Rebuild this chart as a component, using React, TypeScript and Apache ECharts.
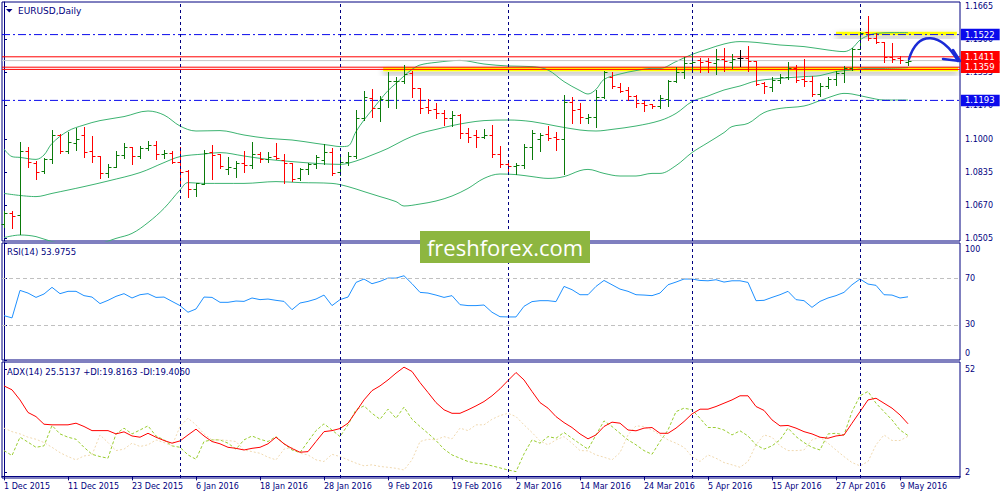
import React, { useEffect, useRef } from "react";
import * as echarts from "echarts";

// ---------- OHLC (bar index 0 = 1 Dec 2015 ... 113 = 10 May 2016) ----------
const opens = [
  1.0575, 1.063, 1.062, 1.094, 1.0878, 1.0842, 1.09, 1.1022, 1.0942, 1.098,
  1.102, 1.094, 1.0915, 1.083, 1.0862, 1.092, 1.0962, 1.0915, 1.0957, 1.0968,
  1.0925, 1.093, 1.0887, 1.084, 1.075, 1.0775, 1.0933, 1.0925, 1.0848, 1.0855,
  1.088, 1.087, 1.0925, 1.0898, 1.0915, 1.0895, 1.0878, 1.0805, 1.0848, 1.0873,
  1.0895, 1.0935, 1.0835, 1.0885, 1.0917, 1.1105, 1.1203, 1.1155, 1.1195, 1.1288,
  1.129, 1.1328, 1.1253, 1.116, 1.115, 1.113, 1.1103, 1.112, 1.103, 1.102,
  1.101, 1.1022, 1.0925, 1.0875, 1.0867, 1.087, 1.096, 1.1, 1.1025, 1.101,
  1.0998, 1.1185, 1.1148, 1.1105, 1.111, 1.121, 1.1312, 1.1262, 1.1245, 1.1215,
  1.118, 1.1175, 1.1165, 1.12, 1.129, 1.1335, 1.138, 1.1393, 1.1392, 1.138,
  1.14, 1.1385, 1.1403, 1.1403, 1.139, 1.1278, 1.1262, 1.1295, 1.131, 1.1355,
  1.1298, 1.129, 1.1223, 1.1265, 1.1298, 1.1332, 1.1353, 1.1448, 1.1533, 1.1505,
  1.1485, 1.1408, 1.1403, 1.1385,
];
const highs = [
  1.064, 1.064, 1.0985, 1.0962, 1.089, 1.0903, 1.1045, 1.1025, 1.1037, 1.1053,
  1.1062, 1.1015, 1.0915, 1.0875, 1.094, 1.0982, 1.0962, 1.0967, 1.0992, 1.0992,
  1.0945, 1.094, 1.0962, 1.0845, 1.0782, 1.0945, 1.097, 1.0925, 1.0908, 1.089,
  1.0942, 1.0983, 1.0937, 1.0937, 1.0978, 1.0925, 1.0878, 1.0853, 1.0878, 1.092,
  1.0973, 1.0953, 1.0915, 1.0937, 1.1145, 1.1242, 1.1248, 1.1215, 1.1337, 1.1308,
  1.137, 1.134, 1.1253, 1.1198, 1.1178, 1.1145, 1.114, 1.1123, 1.1053, 1.1045,
  1.1048, 1.107, 1.0965, 1.0895, 1.0878, 1.0975, 1.1045, 1.1032, 1.1065, 1.1037,
  1.122, 1.1212, 1.1182, 1.1123, 1.1245, 1.1342, 1.1337, 1.1278, 1.1262, 1.122,
  1.119, 1.1175, 1.122, 1.1295, 1.1362, 1.1412, 1.142, 1.1403, 1.1407, 1.1448,
  1.1453, 1.1425, 1.1445, 1.1467, 1.139, 1.1287, 1.1308, 1.1325, 1.1387, 1.137,
  1.14, 1.1315, 1.1278, 1.1308, 1.1342, 1.1365, 1.1453, 1.1537, 1.1615, 1.1528,
  1.1487, 1.1482, 1.1415, 1.1395,
];
const lows = [
  1.0562, 1.0553, 1.0523, 1.0862, 1.0798, 1.0832, 1.0878, 1.0928, 1.0928, 1.0945,
  1.0908, 1.0883, 1.0803, 1.0808, 1.0862, 1.0903, 1.0875, 1.0903, 1.0945, 1.0898,
  1.0903, 1.0878, 1.0775, 1.0712, 1.0715, 1.0775, 1.08, 1.0853, 1.0825, 1.0812,
  1.0837, 1.0853, 1.0883, 1.0887, 1.0898, 1.0778, 1.0792, 1.0795, 1.0823, 1.0853,
  1.0875, 1.082, 1.082, 1.0872, 1.0903, 1.1095, 1.1112, 1.109, 1.1162, 1.1157,
  1.1282, 1.1212, 1.1128, 1.1128, 1.1103, 1.107, 1.1065, 1.1003, 1.0987, 1.0958,
  1.1003, 1.0912, 1.0862, 1.0825, 1.0825, 1.0853, 1.0898, 1.0942, 1.0995, 1.0945,
  1.0825, 1.1078, 1.1082, 1.1078, 1.1058, 1.1203, 1.1253, 1.1237, 1.1195, 1.1158,
  1.1142, 1.1153, 1.1153, 1.1167, 1.1287, 1.1303, 1.1337, 1.1337, 1.1333, 1.1325,
  1.1342, 1.1353, 1.1367, 1.1342, 1.127, 1.1232, 1.1242, 1.1278, 1.13, 1.1287,
  1.1267, 1.1217, 1.1217, 1.1253, 1.127, 1.1287, 1.1345, 1.1448, 1.1495, 1.1478,
  1.1383, 1.1387, 1.1378, 1.137,
];
const closes = [
  1.0628, 1.0615, 1.094, 1.0883, 1.0837, 1.09, 1.102, 1.094, 1.0987, 1.1,
  1.0937, 1.0915, 1.0828, 1.0862, 1.092, 1.0962, 1.0915, 1.0957, 1.0968, 1.0925,
  1.0928, 1.0887, 1.0833, 1.075, 1.078, 1.0928, 1.092, 1.0865, 1.0862, 1.088,
  1.087, 1.0923, 1.0898, 1.0912, 1.0905, 1.0878, 1.08, 1.0848, 1.0873, 1.0908,
  1.0935, 1.0832, 1.0887, 1.0915, 1.1103, 1.1212, 1.1153, 1.1198, 1.129, 1.1292,
  1.1325, 1.1253, 1.1153, 1.1145, 1.1128, 1.1103, 1.112, 1.1028, 1.1012, 1.1012,
  1.102, 1.0925, 1.0875, 1.0867, 1.087, 1.0962, 1.1032, 1.102, 1.1007, 1.0998,
  1.1187, 1.1145, 1.1108, 1.111, 1.1208, 1.1337, 1.1265, 1.1242, 1.1215, 1.1178,
  1.117, 1.1165, 1.1205, 1.129, 1.1337, 1.1382, 1.1387, 1.1385, 1.1383, 1.1398,
  1.1392, 1.1398, 1.1403, 1.139, 1.1275, 1.1265, 1.1295, 1.1312, 1.1353, 1.1295,
  1.129, 1.1223, 1.1265, 1.1298, 1.1332, 1.1353, 1.1448, 1.1528, 1.1503, 1.1487,
  1.1408, 1.14, 1.1395, 1.139,
];

// ---------- Bollinger bands: [bar index, price] ----------
const bbUpper = [
  [0, 1.095], [1, 1.0912], [2, 1.0908], [4, 1.0898], [5, 1.092], [6, 1.0978], [8, 1.104],
  [10, 1.107], [12, 1.1092], [15, 1.1112], [18, 1.114], [20, 1.112], [22, 1.1065], [24, 1.104],
  [27, 1.1042], [30, 1.102], [33, 1.1003], [36, 1.0995], [39, 1.0978], [41, 1.0967], [42, 1.0962],
  [43, 1.0965], [44, 1.1037], [45, 1.1095], [46, 1.1145], [47, 1.1195], [48, 1.1242], [49, 1.1278],
  [50, 1.1315], [51, 1.1348], [52, 1.137], [54, 1.1383], [57, 1.1393], [60, 1.1375], [63, 1.1365],
  [66, 1.1362], [68, 1.1345], [70, 1.1287], [72, 1.1242], [73, 1.1225], [74, 1.1248], [75, 1.1298],
  [77, 1.1325], [79, 1.1342], [81, 1.1353], [82, 1.1353], [84, 1.1387], [86, 1.1423], [88, 1.145],
  [90, 1.1475], [92, 1.1487], [94, 1.1483], [97, 1.147], [100, 1.1462], [103, 1.1445], [105, 1.1437],
  [106, 1.1453], [107, 1.1495], [108, 1.1517], [109, 1.1528], [111, 1.1532], [113, 1.1532],
];
const bbMiddle = [
  [0, 1.0728], [4, 1.0712], [6, 1.0728], [10, 1.0762], [13, 1.079], [17, 1.0832], [20, 1.0882],
  [22, 1.0912], [25, 1.0925], [27, 1.0932], [30, 1.0915], [33, 1.0898], [36, 1.0887], [39, 1.0878],
  [42, 1.0873], [44, 1.089], [46, 1.092], [48, 1.0953], [50, 1.0995], [52, 1.1028], [54, 1.1048],
  [56, 1.1067], [58, 1.1082], [60, 1.1092], [63, 1.1095], [66, 1.1087], [69, 1.1065], [72, 1.1045],
  [74, 1.104], [76, 1.1048], [79, 1.1065], [82, 1.1092], [84, 1.1128], [86, 1.1187], [88, 1.1215],
  [90, 1.1245], [92, 1.1265], [94, 1.129], [97, 1.1303], [100, 1.1312], [102, 1.1317], [104, 1.1337],
  [106, 1.1345], [108, 1.1353], [110, 1.1353], [113, 1.1357],
];
const bbLower = [
  [0, 1.0507], [2, 1.052], [4, 1.0512], [6, 1.0487], [9, 1.047], [12, 1.0478], [14, 1.0503],
  [16, 1.0528], [18, 1.0582], [20, 1.0653], [22, 1.0745], [23, 1.0782], [25, 1.0778], [30, 1.0778],
  [34, 1.0787], [37, 1.0782], [41, 1.0778], [43, 1.0762], [45, 1.0737], [47, 1.0712], [49, 1.0687],
  [50, 1.0665], [52, 1.0675], [54, 1.069], [56, 1.0715], [58, 1.0753], [60, 1.0803], [62, 1.0825],
  [64, 1.0822], [66, 1.0812], [68, 1.0803], [70, 1.0812], [72, 1.0842], [73, 1.0848], [75, 1.0828],
  [77, 1.0815], [79, 1.0815], [81, 1.0828], [82, 1.0828], [84, 1.0867], [86, 1.0932], [88, 1.0982],
  [90, 1.1032], [91, 1.1062], [93, 1.1078], [95, 1.1132], [97, 1.1153], [100, 1.1165], [102, 1.1192],
  [104, 1.122], [105, 1.1228], [106, 1.1225], [108, 1.1208], [110, 1.1195], [113, 1.1195],
];

// ---------- RSI(14) ----------
const rsi = [
  37.9, 36.0, 59.5, 57.2, 53.5, 56.4, 62.1, 56.7, 58.7, 58.7,
  55.0, 53.8, 48.2, 51.0, 54.4, 56.7, 53.0, 55.8, 56.7, 53.5,
  53.8, 50.1, 46.5, 40.8, 43.6, 53.8, 53.5, 49.3, 49.3, 50.4,
  50.1, 53.0, 51.6, 52.1, 51.0, 50.1, 43.0, 48.7, 50.1, 52.1,
  55.5, 46.5, 51.6, 53.8, 66.3, 69.2, 65.2, 67.2, 70.0, 70.0,
  72.0, 65.2, 57.8, 57.2, 55.5, 53.5, 55.0, 47.3, 46.5, 46.5,
  47.0, 40.8, 37.0, 36.8, 36.8, 45.9, 49.9, 50.7, 50.7, 49.9,
  62.9, 60.1, 55.8, 55.8, 62.9, 68.0, 64.3, 60.6, 58.7, 55.8,
  55.5, 55.0, 57.2, 64.3, 66.6, 69.2, 69.2, 68.0, 67.7, 68.6,
  66.6, 67.7, 67.7, 66.3, 50.7, 51.0, 53.5, 55.8, 58.7, 51.6,
  50.7, 45.0, 50.1, 53.0, 55.0, 57.8, 64.3, 69.2, 64.9, 63.8,
  55.8, 55.5, 53.0, 53.98,
];

// ---------- ADX(14), +DI, -DI ----------
const adx = [
  43.9, 42.0, 37.1, 31.0, 29.0, 25.3, 25.0, 25.0, 25.0, 25.8,
  24.2, 22.2, 22.2, 22.2, 20.6, 21.6, 19.6, 19.0, 20.9, 19.0,
  17.4, 16.1, 17.2, 20.1, 22.9, 19.6, 16.9, 15.8, 14.1, 13.6,
  12.8, 13.6, 14.1, 15.8, 19.0, 15.8, 13.5, 11.7, 12.0, 16.9,
  21.7, 22.2, 23.2, 25.8, 31.4, 37.1, 41.6, 43.9, 46.8, 50.1,
  53.0, 50.9, 45.5, 40.7, 35.8, 32.3, 30.6, 30.6, 32.3, 34.2,
  36.3, 39.1, 42.5, 46.5, 50.4, 46.8, 41.2, 35.8, 33.1, 29.0,
  26.1, 23.7, 20.6, 18.2, 20.1, 24.2, 26.3, 25.8, 22.5, 22.1,
  23.4, 23.7, 20.9, 20.9, 23.4, 26.6, 30.3, 32.6, 32.6, 33.9,
  35.5, 37.1, 39.1, 39.1, 33.9, 32.0, 27.4, 24.5, 24.7, 23.4,
  21.7, 20.6, 19.0, 18.5, 19.6, 20.1, 25.8, 31.4, 37.1, 37.9,
  35.5, 33.1, 29.8, 25.51,
];
const plusDI = [
  12.5, 10.1, 19.0, 16.6, 14.1, 14.8, 24.7, 20.6, 19.0, 18.0,
  14.1, 10.7, 9.6, 8.8, 20.6, 23.4, 20.6, 22.5, 24.5, 19.6,
  17.7, 14.8, 14.1, 10.4, 8.3, 16.9, 17.7, 17.7, 16.1, 13.2,
  17.7, 19.6, 18.0, 16.9, 19.3, 15.8, 12.8, 11.5, 16.9, 22.2,
  25.5, 22.5, 19.3, 25.0, 32.3, 34.2, 30.6, 27.7, 32.6, 28.2,
  33.6, 27.7, 24.2, 20.9, 17.4, 13.2, 10.4, 8.8, 7.2, 6.4,
  6.0, 5.1, 4.1, 3.1, 2.3, 10.9, 17.7, 16.1, 19.3, 18.5,
  21.3, 18.5, 15.8, 13.2, 20.1, 26.9, 24.2, 20.9, 17.7, 15.3,
  12.5, 10.7, 16.9, 22.5, 31.4, 33.1, 32.3, 28.2, 23.7, 23.7,
  22.5, 20.1, 22.1, 19.6, 15.3, 13.2, 14.8, 17.7, 23.4, 19.3,
  16.4, 14.1, 12.8, 20.6, 20.9, 20.1, 31.4, 39.1, 41.2, 35.5,
  31.4, 27.4, 22.5, 19.82,
];
const minusDI = [
  23.4, 21.7, 20.6, 19.0, 18.0, 16.4, 14.1, 11.5, 9.6, 8.0,
  9.9, 10.4, 20.1, 16.4, 12.5, 13.2, 16.1, 14.5, 15.3, 17.7,
  16.4, 14.8, 24.2, 28.2, 25.0, 20.6, 17.7, 17.7, 17.4, 16.9,
  12.8, 12.0, 11.2, 9.3, 8.0, 13.2, 14.1, 11.2, 10.4, 8.0,
  7.2, 10.7, 9.6, 8.0, 6.4, 5.1, 5.6, 4.8, 4.4, 3.9,
  3.1, 8.0, 16.9, 18.0, 17.7, 19.3, 18.2, 23.4, 22.2, 25.0,
  25.0, 27.7, 29.5, 30.6, 29.0, 25.0, 21.3, 17.2, 15.3, 17.7,
  19.3, 16.1, 12.5, 12.4, 10.4, 9.3, 8.0, 11.5, 20.1, 24.5,
  24.2, 22.5, 20.1, 17.7, 16.1, 14.1, 9.6, 7.2, 10.4, 8.8,
  6.7, 5.6, 4.4, 7.2, 15.3, 20.1, 19.0, 14.8, 12.5, 12.5,
  12.8, 17.7, 19.0, 16.1, 12.8, 9.6, 6.7, 5.1, 7.2, 15.3,
  20.1, 17.4, 17.4, 19.41,
];

// ---------- axes / annotations ----------
const xTickIdx = [0, 8, 16, 24, 32, 40, 48, 56, 64, 72, 80, 88, 96, 104, 112];
const xTickLabels = [
  "1 Dec 2015", "11 Dec 2015", "23 Dec 2015", "6 Jan 2016", "18 Jan 2016",
  "28 Jan 2016", "9 Feb 2016", "19 Feb 2016", "2 Mar 2016", "14 Mar 2016",
  "24 Mar 2016", "5 Apr 2016", "15 Apr 2016", "27 Apr 2016", "9 May 2016",
];
const monthStartIdx = [22, 42, 63, 86, 107];
const priceTicks = [1.1665, 1.15, 1.1335, 1.117, 1.1, 1.0835, 1.067, 1.0505];
const rsiTicks = [0, 30, 70, 100];
const rsiLevels = [70, 30];
const adxTicks = [2, 52];
const blueLevels = [1.1522, 1.1193];
const redLevels = [1.1411, 1.1359, 1.1348];
const redLabelled = [1.1411, 1.1359];
const bidPrice = 1.1392;
const zoneLow = { x0: 47.4, x1: 119.25, y0: 1.136, y1: 1.13385 };
const zoneHigh = { x0: 104, x1: 119.1, y0: 1.1536, y1: 1.1519 };

const X_MIN = -0.25;
const X_MAX = 119.5;
const NAVY = "#000080";
const BLUE = "#0b0bec";
const RED = "#ff0000";
const FONT = "DejaVu Sans";
const UP = "#0a7a0a";

export default function App() {
  const ref = useRef<HTMLDivElement>(null);

  useEffect(() => {
    if (!ref.current) return;
    const chart = echarts.init(ref.current, null, { renderer: "svg" });

    const barData = opens.map((o, i) => [i, o, highs[i], lows[i], closes[i]]);
    const sepStyle = { color: NAVY, width: 1, type: [3, 3] as any };
    const sepLines = monthStartIdx.map((x) => ({ xAxis: x, lineStyle: sepStyle }));

    const priceBox = (bg: string, v: number) => ({
      show: true,
      formatter: v.toFixed(4),
      color: "#ffffff",
      backgroundColor: bg,
      padding: [1, 5, 1, 4],
      fontFamily: FONT,
      fontSize: 8.5,
      lineHeight: 9.5,
      distance: 1,
      align: "left",
      verticalAlign: "middle",
    });

    // a horizontal price level drawn as a two-point line series across the main panel
    const levelSeries = (v: number, color: string, type: any, label: boolean) => ({
      type: "line",
      xAxisIndex: 0,
      yAxisIndex: 0,
      z: 2,
      silent: true,
      symbol: "none",
      data: [
        [X_MIN, v],
        [X_MAX - 0.01, v],
      ],
      lineStyle: { color, width: 1, type },
      endLabel: label ? priceBox(color, v) : { show: false },
      labelLayout: { hideOverlap: false },
    });

    const xBase = (gi: number) => ({
      type: "value",
      gridIndex: gi,
      min: X_MIN,
      max: X_MAX,
      axisLine: { show: false },
      axisTick: { show: false },
      axisLabel: { show: false },
      splitLine: { show: false },
    });

    const labelStyle = { color: NAVY, fontFamily: FONT, fontSize: 8 };

    const option: any = {
      animation: false,
      backgroundColor: "#ffffff",
      grid: [
        { left: 2, top: 2, width: 958, height: 239, show: true, borderColor: NAVY, borderWidth: 1, backgroundColor: "transparent", outerBoundsMode: "none" },
        { left: 2, top: 243, width: 958, height: 117, show: true, borderColor: NAVY, borderWidth: 1, backgroundColor: "transparent", outerBoundsMode: "none" },
        { left: 2, top: 362, width: 958, height: 116, show: true, borderColor: NAVY, borderWidth: 1, backgroundColor: "transparent", outerBoundsMode: "none" },
      ],
      xAxis: [
        xBase(0),
        xBase(1),
        {
          ...xBase(2),
          axisLine: { show: true, lineStyle: { color: NAVY } },
          axisTick: { show: true, customValues: xTickIdx, length: 4, lineStyle: { color: NAVY } },
          axisLabel: {
            show: true,
            customValues: xTickIdx,
            formatter: (v: number) => {
              const k = xTickIdx.indexOf(Math.round(v));
              return k >= 0 ? xTickLabels[k] : "";
            },
            align: "left",
            margin: 4,
            ...labelStyle,
          },
        },
      ],
      yAxis: [
        {
          type: "value",
          gridIndex: 0,
          position: "right",
          min: 1.049,
          max: 1.1685,
          axisLine: { show: true, lineStyle: { color: NAVY } },
          axisTick: { show: true, customValues: priceTicks, length: 3, lineStyle: { color: NAVY } },
          axisLabel: { show: true, customValues: priceTicks, formatter: (v: number) => v.toFixed(4), margin: 5, ...labelStyle },
          splitLine: { show: false },
        },
        {
          type: "value",
          gridIndex: 1,
          position: "right",
          min: 0,
          max: 100,
          axisLine: { show: true, lineStyle: { color: NAVY } },
          axisTick: { show: true, customValues: rsiTicks, length: 3, lineStyle: { color: NAVY } },
          axisLabel: {
            show: true,
            customValues: rsiTicks,
            margin: 5,
            ...labelStyle,
            formatter: (v: number) => (v >= 100 ? "{t|100}" : v <= 0 ? "{b|0}" : "{n|" + v + "}"),
            rich: {
              t: { padding: [13, 0, 0, 0], ...labelStyle },
              b: { padding: [0, 0, 13, 0], ...labelStyle },
              n: { ...labelStyle },
            },
          },
          splitLine: { show: false },
        },
        {
          type: "value",
          gridIndex: 2,
          position: "right",
          min: -0.8,
          max: 55.5,
          axisLine: { show: true, lineStyle: { color: NAVY } },
          axisTick: { show: true, customValues: adxTicks, length: 3, lineStyle: { color: NAVY } },
          axisLabel: { show: true, customValues: adxTicks, margin: 5, ...labelStyle },
          splitLine: { show: false },
        },
      ],
      series: [
        {
          name: "BB middle",
          type: "line",
          xAxisIndex: 0,
          yAxisIndex: 0,
          z: 2,
          data: bbMiddle,
          symbol: "none",
          smooth: 0.35,
          lineStyle: { color: "#3cb371", width: 1 },
          markArea: {
            silent: true,
            precision: 5,
            itemStyle: { color: "#ffff00", shadowColor: "rgba(0,0,0,0.35)", shadowBlur: 6, shadowOffsetY: 3 },
            data: [
              [{ xAxis: zoneLow.x0, yAxis: zoneLow.y0 }, { xAxis: zoneLow.x1, yAxis: zoneLow.y1 }],
              [{ xAxis: zoneHigh.x0, yAxis: zoneHigh.y0 }, { xAxis: zoneHigh.x1, yAxis: zoneHigh.y1 }],
            ],
          },
        },
        {
          name: "BB upper",
          type: "line",
          xAxisIndex: 0,
          yAxisIndex: 0,
          z: 2,
          data: bbUpper,
          symbol: "none",
          smooth: 0.35,
          lineStyle: { color: "#3cb371", width: 1 },
          markLine: {
            silent: true,
            symbol: ["none", "none"],
            label: { show: false },
            data: sepLines,
          },
        },
        {
          name: "BB lower",
          type: "line",
          xAxisIndex: 0,
          yAxisIndex: 0,
          z: 2,
          data: bbLower,
          symbol: "none",
          smooth: 0.35,
          lineStyle: { color: "#3cb371", width: 1 },
        },
        levelSeries(bidPrice, "#c8c8c8", "solid", false),
        ...blueLevels.map((v) => levelSeries(v, BLUE, [8, 3, 2, 3], true)),
        ...redLevels.map((v) => levelSeries(v, RED, "solid", redLabelled.indexOf(v) >= 0)),
        {
          name: "EURUSD",
          type: "custom",
          xAxisIndex: 0,
          yAxisIndex: 0,
          z: 3,
          data: barData,
          encode: { x: 0, y: [1, 2, 3, 4] },
          renderItem: (params: any, api: any) => {
            const i = api.value(0);
            const o = api.value(1);
            const c = api.value(4);
            const ph = api.coord([i, api.value(2)]);
            const pl = api.coord([i, api.value(3)]);
            const po = api.coord([i, o]);
            const pc = api.coord([i, c]);
            const color = c > o ? UP : c < o ? RED : "#000000";
            const x = Math.round(ph[0]) + 0.5;
            const yo = Math.round(po[1]) + 0.5;
            const yc = Math.round(pc[1]) + 0.5;
            const st = { stroke: color, lineWidth: 1 };
            return {
              type: "group",
              children: [
                { type: "line", shape: { x1: x, y1: Math.round(ph[1]), x2: x, y2: Math.round(pl[1]) + 1 }, style: st },
                { type: "line", shape: { x1: x - 3, y1: yo, x2: x, y2: yo }, style: st },
                { type: "line", shape: { x1: x, y1: yc, x2: x + 3, y2: yc }, style: st },
              ],
            };
          },
        },
        {
          name: "RSI",
          type: "line",
          xAxisIndex: 1,
          yAxisIndex: 1,
          data: rsi.map((v, i) => [i, v]),
          symbol: "none",
          lineStyle: { color: "#1e90ff", width: 1 },
          markLine: {
            silent: true,
            precision: 2,
            symbol: ["none", "none"],
            label: { show: false },
            data: [
              ...sepLines,
              ...rsiLevels.map((v) => ({ yAxis: v, lineStyle: { color: "#c0c0c0", width: 1, type: [4, 3] } })),
            ],
          },
        },
        {
          name: "+DI",
          type: "line",
          xAxisIndex: 2,
          yAxisIndex: 2,
          data: plusDI.map((v, i) => [i, v]),
          symbol: "none",
          lineStyle: { color: "#9acd32", width: 1, type: [3, 2] },
        },
        {
          name: "-DI",
          type: "line",
          xAxisIndex: 2,
          yAxisIndex: 2,
          data: minusDI.map((v, i) => [i, v]),
          symbol: "none",
          lineStyle: { color: "#f0d9b0", width: 1, type: [2, 2] },
        },
        {
          name: "ADX",
          type: "line",
          xAxisIndex: 2,
          yAxisIndex: 2,
          data: adx.map((v, i) => [i, v]),
          symbol: "none",
          lineStyle: { color: RED, width: 1 },
          markLine: {
            silent: true,
            symbol: ["none", "none"],
            label: { show: false },
            data: sepLines,
          },
        },
      ],
      graphic: [
        { type: "polygon", shape: { points: [[6, 9], [12.5, 9], [9.25, 12.5]] }, style: { fill: NAVY }, z: 20 },
        {
          type: "text",
          x: 18,
          y: 11,
          z: 20,
          style: { text: "EURUSD,Daily", fill: NAVY, fontFamily: FONT, fontSize: 9, align: "left", verticalAlign: "middle" },
        },
        {
          type: "text",
          x: 7,
          y: 252,
          z: 20,
          style: { text: "RSI(14) 53.9755", fill: NAVY, fontFamily: FONT, fontSize: 8.5, align: "left", verticalAlign: "middle" },
        },
        {
          type: "text",
          x: 7,
          y: 372,
          z: 20,
          style: {
            text: "ADX(14) 25.5137 +DI:19.8163 -DI:19.4060",
            fill: NAVY,
            fontFamily: FONT,
            fontSize: 8.5,
            align: "left",
            verticalAlign: "middle",
          },
        },
        {
          type: "bezierCurve",
          z: 50,
          shape: { x1: 909, y1: 59, cpx1: 918, cpy1: 30, cpx2: 941, cpy2: 32, x2: 958, y2: 61 },
          style: { stroke: "#1a2ad6", lineWidth: 2.5, fill: null, lineCap: "round" },
        },
        {
          type: "polyline",
          z: 50,
          shape: { points: [[943, 59], [960, 61], [953, 50]] },
          style: { stroke: "#1a2ad6", lineWidth: 2.5, fill: null, lineCap: "round", lineJoin: "round" },
        },
        { type: "rect", z: 100, shape: { x: 420, y: 231, width: 170, height: 32 }, style: { fill: "#8db640" } },
        {
          type: "text",
          z: 101,
          x: 505,
          y: 247,
          style: { text: "freshforex.com", fill: "#ffffff", fontFamily: "Open Sans", fontSize: 22, align: "center", verticalAlign: "middle" },
        },
      ],
    };

    chart.setOption(option);
    return () => chart.dispose();
  }, []);

  return (
    <div
      ref={ref}
      style={{ position: "fixed", left: 0, top: 0, width: "1000px", height: "500px", background: "#ffffff" }}
    />
  );
}
